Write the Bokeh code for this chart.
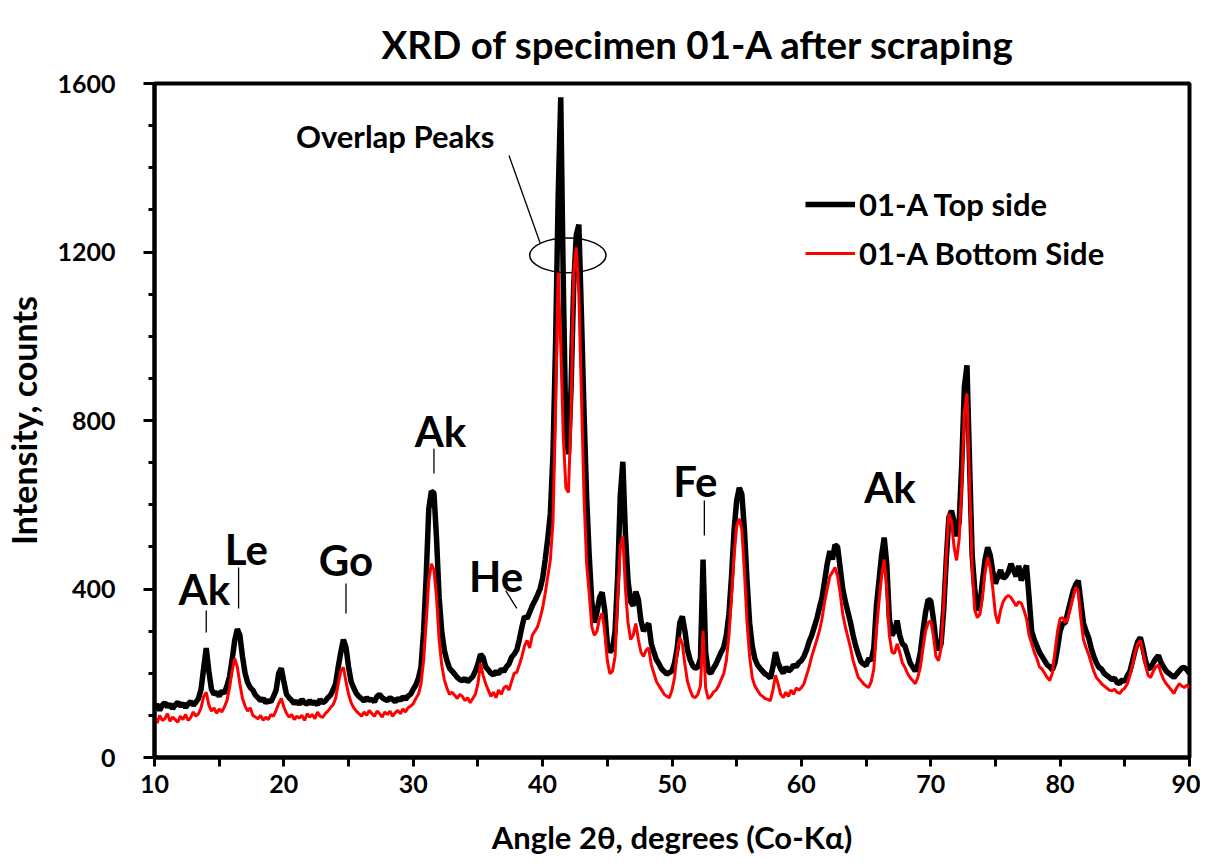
from bokeh.plotting import figure
from bokeh.models import Legend, LegendItem, FixedTicker, Range1d
from bokeh.core.properties import value
from bokeh.embed import file_html
from bokeh.resources import INLINE

# ---- data ----
angle = [round(10 + 0.2 * i, 1) for i in range(401)]

top_side = [
    118, 126, 112, 124, 130, 120, 127, 116, 125, 131,
    122, 128, 119, 127, 133, 124, 131, 140, 162, 212,
    260, 205, 162, 150, 155, 145, 158, 152, 170, 192,
    232, 278, 305, 290, 240, 200, 178, 166, 160, 148,
    142, 135, 140, 130, 136, 132, 145, 160, 200, 212,
    180, 150, 142, 136, 128, 134, 126, 138, 130, 127,
    135, 128, 132, 125, 138, 130, 134, 142, 148, 160,
    175, 215, 250, 280, 262, 215, 180, 165, 152, 145,
    140, 134, 142, 136, 138, 132, 145, 150, 142, 138,
    135, 142, 138, 132, 140, 136, 144, 138, 146, 150,
    162, 172, 188, 215, 300, 430, 590, 632, 628, 520,
    380, 300, 255, 230, 212, 205, 198, 190, 185, 182,
    188, 180, 186, 192, 205, 222, 245, 238, 215, 208,
    200, 196, 205, 198, 210, 204, 215, 222, 238, 245,
    255, 280, 310, 335, 330, 345, 360, 372, 385, 400,
    425, 470, 520, 580, 720, 980, 1330, 1567, 1120, 770,
    720, 880, 1120, 1240, 1265, 1050, 820, 620, 480, 370,
    320, 345, 380, 392, 350, 270, 250, 258, 300, 430,
    620, 702, 530, 420, 370, 360, 394, 375, 325, 300,
    310, 318, 270, 250, 232, 222, 210, 204, 198, 202,
    205, 225, 260, 320, 335, 300, 255, 232, 218, 212,
    215, 235, 470, 250, 205, 200, 212, 222, 236, 250,
    262, 290, 340, 430, 540, 610, 640, 625, 540, 420,
    320, 265, 235, 220, 212, 205, 198, 195, 188, 215,
    250, 225, 210, 200, 215, 205, 210, 220, 215, 225,
    230, 240, 255, 275, 290, 310, 330, 356, 380, 420,
    460, 490, 470, 505, 500, 450, 400, 370, 345, 320,
    290, 265, 245, 228, 222, 218, 235, 230, 260, 360,
    420, 480, 522, 460, 330, 290, 300, 325, 290, 270,
    265, 245, 225, 215, 205, 220, 250, 300, 345, 375,
    372, 330, 275, 255, 270, 350, 470, 570, 586, 560,
    525, 560, 700, 880, 931, 700, 480, 400, 350, 360,
    420, 470, 499, 480, 440, 413, 430, 445, 425, 430,
    440, 460, 445, 430, 455, 420, 440, 456, 380, 300,
    280, 265, 250, 240, 230, 220, 215, 208, 225, 260,
    300, 318, 320, 345, 370, 395, 410, 420, 370, 320,
    300, 285, 260, 240, 225, 214, 210, 200, 195, 190,
    185, 188, 178, 176, 185, 180, 195, 205, 230, 255,
    275, 285, 260, 230, 210, 214, 225, 235, 242, 225,
    215, 205, 200, 195, 190, 198, 205, 212, 214, 208,
    200,
]

bottom_side = [
    95, 82, 100, 88, 92, 104, 86, 96, 90, 84,
    98, 90, 102, 88, 95, 108, 98, 104, 118, 145,
    155, 125, 110, 118, 105, 115, 108, 120, 135, 165,
    205, 235, 215, 175, 140, 122, 110, 118, 100, 96,
    92, 100, 88, 96, 90, 102, 98, 112, 128, 140,
    120, 105, 96, 102, 90, 98, 94, 100, 88, 104,
    96, 102, 92, 108, 98, 95, 104, 110, 118, 125,
    140, 175, 205, 214, 180, 150, 130, 118, 110, 104,
    98, 108, 100, 112, 104, 98, 110, 104, 96, 108,
    102, 110, 98, 106, 112, 104, 115, 108, 118, 122,
    128, 140, 150, 175, 230, 320, 420, 460, 445, 380,
    280, 220, 185, 165, 150, 155, 148, 140, 150, 145,
    135, 142, 130, 140, 150, 175, 223, 195, 175, 160,
    145, 155, 142, 160, 150, 165, 170, 160, 180, 200,
    202, 220, 240, 265, 278, 260, 290, 300, 310, 330,
    355, 390, 430, 470, 560, 820, 1151, 980, 760, 640,
    629, 820, 1150, 1211, 1100, 860, 620, 460, 390, 310,
    290, 300, 330, 342, 300, 230, 199, 205, 240, 380,
    500, 525, 400, 320, 280, 290, 318, 280, 250, 240,
    255, 260, 220, 200, 180, 170, 160, 150, 145, 142,
    160, 190, 250, 285, 270, 220, 180, 160, 145, 142,
    150, 170, 301, 165, 140, 145, 155, 160, 170, 185,
    199, 230, 290, 380, 480, 550, 567, 540, 440, 320,
    240, 190, 170, 160, 150, 145, 140, 138, 135, 160,
    195, 175, 150, 142, 155, 145, 160, 150, 165, 160,
    166, 175, 195, 215, 240, 260, 280, 301, 330, 370,
    400, 430, 440, 451, 430, 390, 340, 310, 285, 260,
    230, 210, 190, 183, 175, 170, 166, 180, 210, 300,
    370, 430, 470, 400, 290, 250, 247, 270, 250, 225,
    214, 200, 190, 183, 175, 190, 215, 260, 300, 320,
    325, 290, 240, 230, 260, 360, 480, 579, 560, 500,
    468, 520, 650, 820, 864, 650, 450, 350, 332, 340,
    380, 440, 475, 450, 400, 340, 318, 350, 370, 380,
    385, 380, 370, 360, 370, 366, 350, 330, 290, 271,
    250, 235, 215, 210, 200, 190, 183, 200, 250, 300,
    330, 332, 320, 330, 355, 380, 404, 395, 330, 280,
    261, 245, 225, 205, 190, 183, 175, 170, 165, 160,
    158, 162, 155, 152, 160, 165, 175, 195, 220, 250,
    270, 278, 250, 220, 195, 190, 205, 215, 220, 200,
    185, 175, 168, 160, 152, 165, 175, 170, 166, 172,
    165,
]

x_major = [10, 20, 30, 40, 50, 60, 70, 80, 90]
x_minor = [15, 25, 35, 45, 55, 65, 75, 85]
y_major = [0, 400, 800, 1200, 1600]
y_minor = [100, 200, 300, 500, 600, 700, 900, 1000, 1100, 1300, 1400, 1500]

phase_labels = ["Ak", "Le", "Go", "Ak", "He", "Fe", "Ak"]
phase_x = [13.85, 17.1, 24.8, 32.1, 36.4, 51.8, 66.85]
phase_y = [401, 496, 468, 776, 432, 657, 641]
lead_x0 = [14.0, 16.5, 24.8, 31.6, 37.15, 52.5]
lead_y0 = [349, 451, 413, 733, 396, 610]
lead_x1 = [14.0, 16.5, 24.8, 31.6, 38.0, 52.5]
lead_y1 = [297, 354, 342, 674, 354, 527]

note_text = "Overlap Peaks"
note_x, note_y = 28.6, 1476
note_line_x = [37.4, 39.8]
note_line_y = [1429, 1222]
ellipse_x, ellipse_y, ellipse_w, ellipse_h = 41.95, 1192, 5.9, 82

title_text = "XRD of specimen 01-A after scraping"

FONT = "Lato"

p = figure(width=1200, height=866, output_backend="svg", toolbar_location=None,
           x_range=Range1d(10, 90), y_range=Range1d(0, 1600),
           min_border_left=145, min_border_right=11, min_border_top=83,
           min_border_bottom=109)
p.background_fill_color = "white"
p.border_fill_color = "white"
p.grid.visible = False
p.outline_line_color = "black"
p.outline_line_width = 4

p.title.text = title_text
p.title.align = "left"
p.title.offset = 227
p.title.vertical_align = "middle"
p.title.standoff = 32
p.title.text_font = FONT
p.title.text_font_style = "bold"
p.title.text_font_size = "38.5px"
p.title.text_color = "black"

for ax in (p.xaxis[0], p.yaxis[0]):
    ax.axis_line_width = 4
    ax.axis_line_color = "black"
    ax.major_tick_line_width = 3
    ax.minor_tick_line_width = 3
    ax.major_tick_in = 0
    ax.minor_tick_in = 0
    ax.major_label_text_font = FONT
    ax.major_label_text_font_style = "bold"
    ax.major_label_text_font_size = "25px"
    ax.major_label_text_color = "black"
    ax.axis_label_text_font = FONT
    ax.axis_label_text_font_style = "bold"
    ax.axis_label_text_color = "black"

p.xaxis.ticker = FixedTicker(ticks=x_major, minor_ticks=x_minor)
p.yaxis.ticker = FixedTicker(ticks=y_major, minor_ticks=y_minor)
p.xaxis.major_tick_out = 9
p.xaxis.minor_tick_out = 9
p.yaxis.major_tick_out = 11
p.yaxis.minor_tick_out = 6
p.xaxis.major_label_standoff = 8
p.yaxis.major_label_standoff = 28
p.xaxis.axis_label = "Angle 2θ, degrees (Co-Kα)"
p.yaxis.axis_label = "Intensity, counts"
p.xaxis.axis_label_text_font_size = "31px"
p.yaxis.axis_label_text_font_size = "34px"
p.xaxis.axis_label_standoff = 22
p.yaxis.axis_label_standoff = 10

# overlap annotation
p.ellipse(x=[ellipse_x], y=[ellipse_y], width=[ellipse_w], height=[ellipse_h],
          fill_alpha=0, line_color="black", line_width=1.5)
p.line(note_line_x, note_line_y, line_color="black", line_width=1.3)

r_top = p.line(angle, top_side, line_color="black", line_width=5.5)
r_bot = p.line(angle, bottom_side, line_color="#ff0000", line_width=3)

p.segment(x0=lead_x0, y0=lead_y0, x1=lead_x1, y1=lead_y1,
          line_color="black", line_width=1.3)
p.text(x=phase_x, y=phase_y, text=phase_labels, text_font=value(FONT),
       text_font_style="bold", text_font_size="42px", text_align="center",
       text_baseline="middle", text_color="black")
p.text(x=[note_x], y=[note_y], text=[note_text], text_font=value(FONT),
       text_font_style="bold", text_font_size="31px", text_align="center",
       text_baseline="middle", text_color="black")

legend = Legend(items=[LegendItem(label="01-A Top side", renderers=[r_top]),
                       LegendItem(label="01-A Bottom Side", renderers=[r_bot])],
                location=(651, 484))
legend.label_text_font = FONT
legend.label_text_font_style = "bold"
legend.label_text_font_size = "31px"
legend.label_text_color = "black"
legend.glyph_width = 50
legend.glyph_height = 40
legend.label_height = 40
legend.spacing = 9
legend.label_standoff = 4
legend.padding = 0
legend.margin = 0
legend.border_line_alpha = 0
legend.background_fill_alpha = 0
p.add_layout(legend)

open("out.html", "w").write(file_html(p, INLINE))
